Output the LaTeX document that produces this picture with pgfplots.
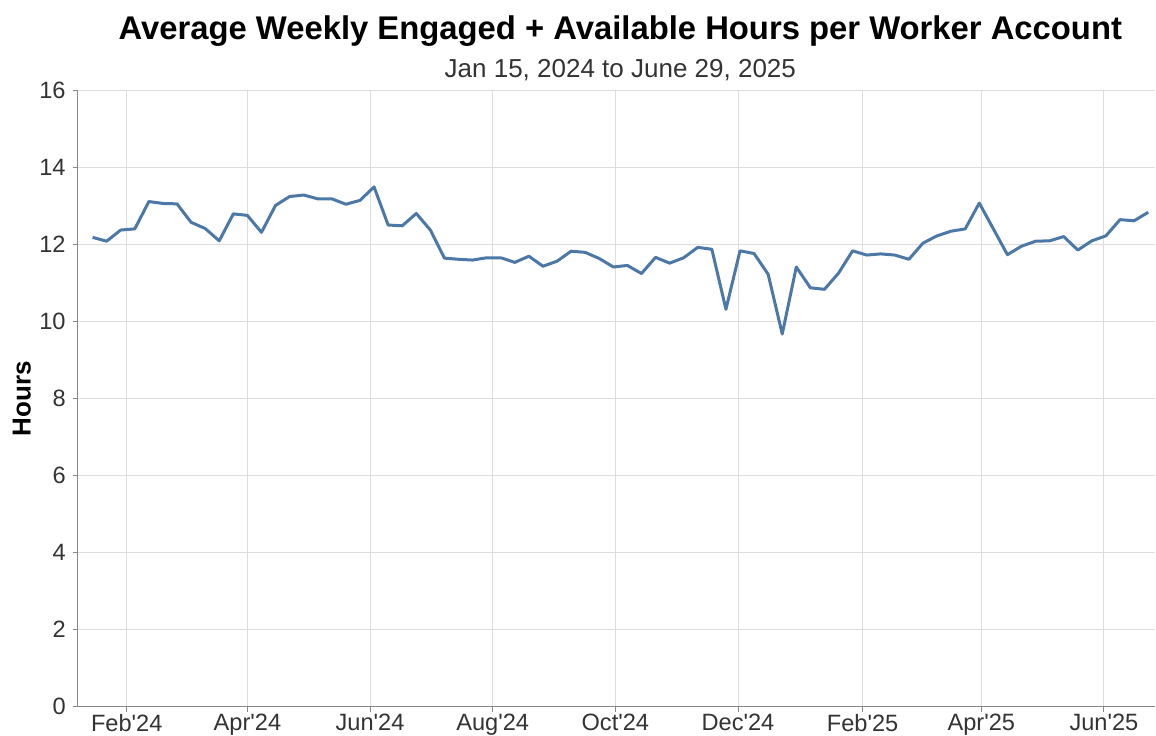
\documentclass[border=0pt]{standalone}
\usepackage{fontspec}
\setmainfont{Liberation Sans}
\usepackage{pgfplots}
\usepackage{pgfplotstable}
\pgfplotsset{compat=1.18}
\definecolor{lineblue}{HTML}{4C78A8}
\definecolor{gridgray}{HTML}{DDDDDD}
\definecolor{axisgray}{HTML}{888888}
\definecolor{ticktext}{HTML}{333333}

% day = days since Jan 1, 2024 (week start), hours = avg weekly hours
\pgfplotstableread{
day hours
14 12.19
21 12.09
28 12.38
35 12.41
42 13.12
49 13.07
56 13.06
63 12.58
70 12.42
77 12.10
84 12.80
91 12.76
98 12.32
105 13.02
112 13.25
119 13.29
126 13.19
133 13.19
140 13.05
147 13.15
154 13.50
161 12.51
168 12.49
175 12.81
182 12.38
189 11.65
196 11.62
203 11.60
210 11.66
217 11.66
224 11.54
231 11.70
238 11.44
245 11.57
252 11.83
259 11.80
266 11.64
273 11.42
280 11.46
287 11.25
294 11.67
301 11.52
308 11.66
315 11.93
322 11.88
329 10.32
336 11.84
343 11.77
350 11.23
357 9.68
364 11.42
371 10.88
378 10.84
385 11.26
392 11.84
399 11.73
406 11.76
413 11.73
420 11.62
427 12.04
434 12.23
441 12.35
448 12.41
455 13.08
469 11.74
476 11.96
483 12.09
490 12.10
497 12.21
504 11.86
511 12.10
518 12.23
525 12.65
532 12.62
539 12.84
}\weekly

\newcommand{\ap}{\textquotesingle}

\begin{document}
\begin{tikzpicture}
\begin{axis}[
  scale only axis, width=538.7pt, height=308pt,
  xmin=6.6, xmax=542.4, ymin=0, ymax=16,
  axis x line*=bottom, axis y line*=left,
  xtick={31,91,152,213,274,335,397,456,517},
  xticklabels={Feb\ap24,Apr\ap24,Jun\ap24,Aug\ap24,Oct\ap24,Dec\ap24,Feb\ap25,Apr\ap25,Jun\ap25},
  ytick={0,2,...,16},
  grid=major, major grid style={gridgray, line width=0.5pt},
  axis line style={axisgray, line width=0.6pt},
  tick style={axisgray, line width=0.5pt},
  tick align=outside, major tick length=2.5pt,
  tick label style={font=\fontsize{11.8}{13}\selectfont, text=ticktext},
  xticklabel style={yshift=2.2pt},
  /pgf/number format/assume math mode=true,
  clip=false,
]
\addplot[lineblue, line width=1.5pt, line join=round, no markers] table[x=day, y=hours] {\weekly};
\end{axis}
\node[anchor=base, font=\bfseries\fontsize{16.4}{19}\selectfont] at ([xshift=2pt, yshift=25.8pt]current axis.north) {Average Weekly Engaged + Available Hours per Worker Account};
\node[anchor=base, font=\fontsize{13}{15}\selectfont, text=ticktext] at ([xshift=2pt, yshift=6.4pt]current axis.north) {Jan 15, 2024 to June 29, 2025};
\node[rotate=90, font=\bfseries\fontsize{13}{15}\selectfont] at ([xshift=-28pt]current axis.west) {Hours};
\pgfresetboundingbox
\path ([xshift=-38.85pt, yshift=-14.25pt]current axis.south west) rectangle ([xshift=0.5pt, yshift=45.35pt]current axis.north east);
\end{tikzpicture}
\end{document}
